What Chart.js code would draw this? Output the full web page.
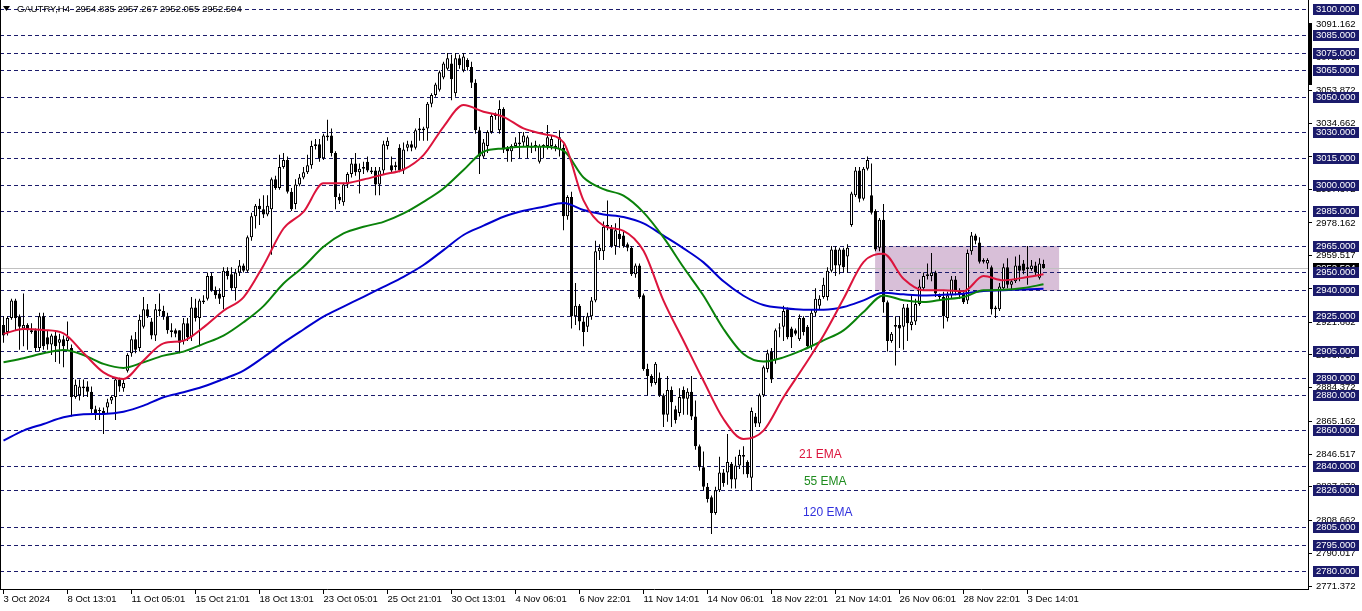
<!DOCTYPE html>
<html>
<head>
<meta charset="utf-8">
<title>GAUTRY H4</title>
<script src="https://cdn.jsdelivr.net/npm/chart.js@4.4.1/dist/chart.umd.min.js"></script>
<style>
  html, body { margin: 0; padding: 0; background: #fff; }
  canvas { display: block; }
</style>
</head>
<body>
<canvas id="chart" width="1362" height="611"></canvas>
<script>
// H4 candles, one entry per bar (bar 0 = 3 Oct 2024)
const opens = [
  2920,2916,2924,2934,2925,2918,2920,2917,2917,2907, 2925,2913,2909,2914,2910,2912,2911,2907,2879,2880,
  2885,2885,2882,2872,2871,2871,2873,2877,2879,2889, 2884,2894,2904,2912,2907,2919,2929,2922,2914,2929,
  2928,2925,2917,2917,2917,2911,2921,2913,2930,2924, 2934,2935,2948,2940,2938,2936,2951,2949,2941,2950,
  2954,2951,2970,2982,2988,2986,2983,2986,3003,2998, 3010,3014,2996,2989,3000,3004,3007,3011,3022,3023,
  3015,3027,3028,3018,2993,2990,3000,3006,3012,3007, 3010,3013,3007,3008,3000,3008,3022,3011,3010,3021,
  3008,3021,3023,3021,3031,3031,3032,3046,3051,3054, 3061,3066,3069,3052,3072,3065,3071,3067,3058,3031,
  3016,3022,3030,3039,3031,3043,3021,3019,3022,3023, 3024,3022,3022,3022,3013,3022,3022,3022,3021,3020,
  3021,2982,2993,2925,2931,2922,2919,2925,2934,2962, 2962,2976,2975,2965,2972,2971,2966,2964,2949,2954,
  2937,2895,2891,2887,2890,2880,2869,2883,2872,2870, 2883,2878,2882,2868,2851,2839,2828,2822,2813,2826,
  2836,2836,2841,2832,2840,2845,2842,2833,2868,2864, 2880,2895,2905,2900,2918,2919,2929,2918,2917,2912,
  2924,2919,2908,2927,2931,2936,2936,2951,2963,2954, 2963,2959,2977,2994,3008,2992,3009,2994,2985,2964,
  2980,2933,2911,2919,2920,2919,2930,2920,2922,2932, 2941,2948,2948,2950,2936,2936,2924,2937,2946,2939,
  2938,2934,2962,2971,2967,2957,2955,2953,2930,2929, 2941,2953,2943,2945,2954,2955,2953,2952,2954,2947,
  2954.835
];
const highs = [
  2925,2925,2935,2935,2926,2938,2921,2921,2918,2927, 2927,2917,2915,2916,2915,2914,2922,2909,2889,2889,
  2889,2888,2885,2874,2873,2873,2878,2880,2890,2890, 2889,2904,2914,2916,2926,2936,2932,2924,2932,2938,
  2931,2927,2921,2918,2917,2924,2924,2936,2935,2935, 2937,2950,2950,2942,2941,2953,2953,2953,2952,2957,
  2955,2971,2984,2989,2992,2994,2994,3004,3005,3017, 3018,3016,2998,3003,3006,3010,3017,3025,3026,3026,
  3029,3037,3032,3019,2995,3001,3007,3015,3018,3012, 3013,3016,3010,3010,3010,3025,3027,3016,3013,3023,
  3024,3025,3025,3032,3038,3033,3047,3052,3058,3065, 3070,3075,3074,3075,3074,3075,3072,3070,3060,3033,
  3026,3031,3040,3041,3048,3044,3022,3023,3027,3030, 3030,3028,3024,3025,3023,3023,3034,3028,3023,3031,
  3023,2994,2996,2944,2932,2925,2927,2936,2968,2966, 2979,2991,2977,2978,2981,2973,2967,2965,2955,2955,
  2938,2898,2892,2899,2893,2881,2891,2885,2874,2884, 2885,2884,2891,2877,2852,2848,2830,2823,2828,2845,
  2838,2858,2842,2845,2849,2851,2843,2873,2870,2881, 2897,2906,2907,2918,2921,2931,2930,2919,2918,2926,
  2925,2920,2929,2941,2937,2947,2953,2965,2965,2964, 2964,2966,2996,3010,3010,3010,3016,3012,2986,2981,
  2989,2934,2916,2925,2925,2932,2932,2937,2935,2946, 2950,2955,2961,2951,2938,2939,2939,2948,2948,2941,
  2940,2963,2973,2972,2970,2958,2958,2954,2931,2944, 2955,2958,2946,2959,2960,2957,2965,2957,2956,2958,
  2957.267
];
const lows = [
  2910,2914,2923,2917,2906,2908,2906,2915,2905,2905, 2906,2906,2903,2899,2898,2896,2906,2868,2878,2877,
  2879,2879,2870,2866,2866,2858,2870,2875,2866,2882, 2882,2893,2902,2904,2905,2918,2924,2912,2911,2925,
  2923,2915,2913,2913,2904,2909,2911,2911,2922,2908, 2932,2934,2939,2935,2932,2929,2946,2940,2934,2948,
  2950,2950,2968,2975,2977,2981,2982,2960,2997,2997, 3009,2995,2985,2986,2999,3003,3006,3009,3020,3013,
  3014,3025,3016,2986,2989,2988,2998,3004,3005,2995, 3006,3007,3006,2994,2994,3006,3020,3007,3008,3007,
  3006,3019,3019,3020,3025,3025,3025,3044,3050,3053, 3060,3065,3048,3050,3066,3064,3065,3055,3029,3006,
  3015,3018,3029,3037,3029,3018,3013,3013,3021,3015, 3022,3015,3018,3019,3012,3015,3020,3020,3019,3016,
  2974,2980,2918,2920,2917,2908,2916,2923,2933,2957, 2957,2974,2964,2960,2964,2964,2962,2948,2947,2935,
  2894,2880,2885,2886,2879,2862,2865,2862,2864,2868, 2869,2869,2866,2849,2837,2826,2819,2801,2812,2825,
  2828,2829,2827,2827,2838,2835,2833,2826,2862,2862, 2879,2893,2887,2898,2913,2911,2912,2907,2914,2911,
  2914,2907,2906,2925,2929,2935,2934,2950,2948,2949, 2950,2950,2976,2993,2990,2991,3008,2983,2962,2962,
  2927,2905,2910,2897,2907,2906,2911,2917,2920,2931, 2940,2946,2945,2936,2934,2918,2922,2935,2937,2935,
  2932,2932,2960,2966,2955,2955,2952,2926,2924,2928, 2940,2941,2940,2944,2945,2949,2943,2951,2948,2946,
  2952.055
];
const closes = [
  2914,2924,2934,2924,2919,2920,2917,2916,2907,2925, 2908,2909,2914,2908,2912,2908,2913,2879,2886,2885,
  2884,2882,2872,2870,2871,2869,2876,2879,2889,2885, 2887,2903,2912,2906,2923,2929,2925,2914,2929,2928,
  2925,2917,2916,2915,2910,2921,2913,2930,2924,2934, 2933,2948,2940,2937,2935,2951,2948,2941,2950,2954,
  2951,2970,2982,2988,2986,2983,2988,3003,2998,3010, 3014,2996,2986,3000,3004,3007,3011,3022,3023,3015,
  3028,3028,3018,2993,2991,3000,3006,3012,3007,3009, 3009,3008,3008,3000,3008,3023,3025,3008,3011,3008,
  3020,3023,3021,3031,3032,3032,3046,3051,3057,3064, 3069,3072,3060,3072,3068,3073,3067,3058,3031,3016,
  3024,3030,3039,3040,3043,3020,3019,3022,3024,3024, 3028,3027,3021,3022,3022,3022,3027,3026,3022,3027,
  2982,2993,2925,2931,2922,2916,2925,2934,2962,2964, 2976,2977,2965,2974,2969,2965,2964,2949,2954,2936,
  2895,2891,2887,2898,2880,2869,2883,2876,2866,2879, 2878,2882,2868,2851,2839,2828,2821,2813,2826,2836,
  2830,2842,2832,2840,2846,2846,2835,2871,2864,2880, 2896,2904,2889,2917,2918,2928,2913,2913,2915,2924,
  2916,2908,2927,2935,2935,2943,2951,2963,2954,2963, 2953,2964,2995,3008,2992,3009,3014,2984,2963,2980,
  2933,2911,2915,2920,2918,2930,2921,2922,2932,2942, 2948,2949,2950,2938,2936,2925,2937,2946,2939,2937,
  2933,2961,2971,2968,2956,2956,2957,2929,2929,2942, 2953,2943,2945,2954,2951,2951,2952,2954,2950,2955,
  2952.504
];

// moving averages every 5 bars
const emaIdx = [0,5,10,15,20,25,30,35,40,45,50,55,60,65,70,75,80,85,90,95,100,105,110,115,120,125,
  130,135,140,145,150,155,160,165,170,175,180,185,190,195,200,205,210,215,220,225,230,235,240,245,250,255,260];
const ema21 = [2915.0,2917.8,2917.2,2915.3,2904.1,2893.1,2889.3,2899.8,2909.6,2911.1,2918.7,2928.2,2935.8,
  2954.0,2975.0,2984.5,3000.7,3000.7,3002.9,3005.8,3008.6,3016.8,3032.9,3045.3,3041.5,3038.6,3032.0,3028.8,
  3024.0,2991.0,2976.6,2973.7,2962.3,2933.9,2911.1,2888.3,2866.5,2855.1,2859.9,2878.9,2896.1,2914.1,2935.0,
  2955.9,2960.6,2946.4,2939.8,2939.8,2939.2,2947.9,2945.5,2947.0,2948.9];
const ema55 = [2898.8,2901.1,2903.9,2905.8,2903.0,2897.9,2895.6,2898.8,2902.6,2904.9,2909.3,2914.0,2921.6,
  2930.8,2943.7,2953.2,2964.6,2972.2,2976.0,2978.8,2983.6,2990.2,2997.8,3008.3,3018.7,3020.6,3021.5,3021.5,
  3019.3,3004.1,2997.4,2993.7,2984.2,2969.9,2952.9,2936.7,2917.8,2903.5,2899.2,2901.6,2906.0,2911.3,2917.0,
  2927.4,2936.9,2934.1,2933.1,2934.6,2936.0,2939.8,2940.1,2941.1,2943.2];
const ema120 = [2854.2,2859.9,2863.7,2867.5,2869.2,2869.4,2870.7,2874.1,2878.9,2881.7,2885.0,2889.3,2894.1,
  2901.7,2910.0,2917.5,2924.8,2930.5,2936.1,2941.8,2947.5,2954.2,2962.7,2971.3,2976.6,2981.7,2985.1,2987.4,
  2989.5,2985.5,2983.0,2981.5,2977.9,2970.9,2963.7,2955.7,2944.9,2936.7,2931.4,2929.7,2928.8,2928.8,2930.3,
  2934.1,2938.4,2937.5,2936.9,2937.3,2937.9,2939.4,2939.8,2940.3,2940.7];

// time axis labels, one every 16 bars
const timeLabels = ["3 Oct 2024","8 Oct 13:01","11 Oct 05:01","15 Oct 21:01","18 Oct 13:01","23 Oct 05:01",
  "25 Oct 21:01","30 Oct 13:01","4 Nov 06:01","6 Nov 22:01","11 Nov 14:01","14 Nov 06:01","18 Nov 22:01",
  "21 Nov 14:01","26 Nov 06:01","28 Nov 22:01","3 Dec 14:01"];
const LABEL_STEP = 16;

// price scale ticks and horizontal level lines
const priceTicks = [3091.162,3072.517,3053.872,3034.662,3016.017,2997.372,2978.162,2959.517,2940.872,
  2921.662,2903.017,2884.372,2865.162,2846.517,2827.872,2808.662,2790.017,2771.372];
const levels = [3100,3085,3075,3065,3050,3030,3015,3000,2985,2965,2950,2940,2925,2905,2890,2880,2860,
  2840,2826,2805,2795,2780];

const symbol = "GAUTRY,H4";
const bid = closes[closes.length - 1];

// consolidation box and text notes
const zone = { from: 217.9, to: 263.9, top: 2965, bottom: 2939.5 };
const notes = [
  { text: "21 EMA", color: "#DC143C", x: 198.9, y: 2846 },
  { text: "55 EMA", color: "#1E8C1E", x: 200.1, y: 2830.6 },
  { text: "120 EMA", color: "#3030DD", x: 199.9, y: 2813.2 }
];

const FONT = "'Liberation Sans', Arial, sans-serif";
const NAVY = "#1b1b6b";

const candleWicks = opens.map((o, i) => ({ x: i, y: [lows[i], highs[i]] }));
const candleBodies = opens.map((o, i) => ({ x: i, y: [Math.min(o, closes[i]), Math.max(o, closes[i])] }));
const bodyColors = opens.map((o, i) => closes[i] >= o ? "#ffffff" : "#000000");
const emaPoints = vals => emaIdx.map((x, k) => ({ x, y: vals[k] }));

const overlay = {
  id: "overlay",
  beforeDatasetsDraw(chart) {
    const { ctx, chartArea: a, scales: { x, y } } = chart;
    ctx.save();
    // shaded range
    const zx1 = x.getPixelForValue(zone.from), zx2 = x.getPixelForValue(zone.to);
    const zy1 = y.getPixelForValue(zone.top), zy2 = y.getPixelForValue(zone.bottom);
    ctx.fillStyle = "#D8BFD8";
    ctx.fillRect(zx1, zy1, zx2 - zx1, zy2 - zy1);

    // dashed levels
    ctx.strokeStyle = NAVY;
    ctx.lineWidth = 1;
    ctx.setLineDash([4, 3]);
    levels.forEach(v => {
      const py = Math.round(y.getPixelForValue(v)) + 0.5;
      ctx.beginPath();
      ctx.moveTo(a.left, py);
      ctx.lineTo(a.right - 2, py);
      ctx.stroke();
    });
    ctx.setLineDash([]);

    // bid line
    const by = Math.round(y.getPixelForValue(bid)) + 0.5;
    ctx.strokeStyle = "#c0c0c0";
    ctx.beginPath();
    ctx.moveTo(a.left, by);
    ctx.lineTo(a.right, by);
    ctx.stroke();
    ctx.restore();
  },
  afterDatasetsDraw(chart) {
    const { ctx, scales: { x, y } } = chart;
    ctx.save();
    ctx.font = "12px " + FONT;
    ctx.textBaseline = "middle";
    notes.forEach(n => {
      ctx.fillStyle = n.color;
      ctx.fillText(n.text, x.getPixelForValue(n.x), y.getPixelForValue(n.y));
    });
    ctx.restore();
  },
  afterDraw(chart) {
    const { ctx, chartArea: a, scales: { y } } = chart;
    ctx.save();
    ctx.font = "9.5px " + FONT;
    ctx.textBaseline = "middle";

    const box = (v, bg) => {
      const py = Math.round(y.getPixelForValue(v));
      ctx.fillStyle = bg;
      ctx.fillRect(a.right + 5, py - 5, 46, 11);
      ctx.fillStyle = "#fff";
      ctx.fillText(v.toFixed(3), a.right + 8, py + 0.5);
    };
    box(bid, "#000");
    levels.forEach(v => box(v, NAVY));

    // frame bits
    ctx.fillStyle = "#000";
    ctx.fillRect(a.left, a.top, 1, a.bottom - a.top);
    ctx.fillRect(a.right + 1, 23, 3, 62);

    // header
    ctx.beginPath();
    ctx.moveTo(3, 6); ctx.lineTo(10, 6); ctx.lineTo(6.5, 11); ctx.closePath();
    ctx.fill();
    const ohlc = [opens, highs, lows, closes].map(s => s[s.length - 1].toFixed(3)).join(" ");
    ctx.fillText(symbol + "  " + ohlc, 17, 9.5);
    ctx.restore();
  }
};

Chart.defaults.font.family = FONT;
Chart.defaults.font.size = 9.5;
Chart.defaults.color = "#000";

new Chart(document.getElementById("chart"), {
  type: "bar",
  data: {
    datasets: [
      { type: "line", data: emaPoints(ema21), borderColor: "#DC143C", borderWidth: 2, pointRadius: 0, cubicInterpolationMode: "monotone", order: 0 },
      { type: "line", data: emaPoints(ema55), borderColor: "#0A820A", borderWidth: 2, pointRadius: 0, cubicInterpolationMode: "monotone", order: 0 },
      { type: "line", data: emaPoints(ema120), borderColor: "#0000CD", borderWidth: 2, pointRadius: 0, cubicInterpolationMode: "monotone", order: 0 },
      { data: candleBodies, backgroundColor: bodyColors, borderColor: "#000", borderWidth: 1, borderSkipped: false,
        barThickness: 3, maxBarThickness: 3, minBarLength: 1, grouped: false, inflateAmount: 0, order: 1 },
      { data: candleWicks, backgroundColor: "#000", borderWidth: 0,
        barThickness: 1, maxBarThickness: 1, grouped: false, inflateAmount: 0, order: 2 }
    ]
  },
  options: {
    responsive: false,
    devicePixelRatio: 1,
    animation: false,
    events: [],
    layout: { padding: 0 },
    plugins: { legend: { display: false }, tooltip: { enabled: false } },
    scales: {
      x: {
        type: "linear",
        min: -0.875,
        max: 326.125,
        offset: false,
        grid: { display: true, offset: false, drawOnChartArea: false, drawTicks: true, tickLength: 5, color: "#000" },
        border: { display: true, color: "#000" },
        ticks: {
          align: "start", maxRotation: 0, autoSkip: false, padding: 0, color: "#000",
          callback: v => timeLabels[Math.round(v / LABEL_STEP)]
        },
        afterBuildTicks: s => { s.ticks = timeLabels.map((t, k) => ({ value: k * LABEL_STEP })); },
        afterFit: s => { s.height = 22; s.paddingLeft = 0; s.paddingRight = 0; }
      },
      y: {
        position: "right",
        min: 2769.7,
        max: 3105.13,
        grid: { display: true, drawOnChartArea: false, drawTicks: true, tickLength: 4, color: "#000" },
        border: { display: true, color: "#000" },
        ticks: { padding: 4, autoSkip: false, color: "#000", callback: v => v.toFixed(3) },
        afterBuildTicks: s => { s.ticks = priceTicks.map(v => ({ value: v })); },
        afterFit: s => { s.width = 54; s.paddingTop = 0; s.paddingBottom = 0; }
      }
    }
  },
  plugins: [overlay]
});
</script>
</body>
</html>
